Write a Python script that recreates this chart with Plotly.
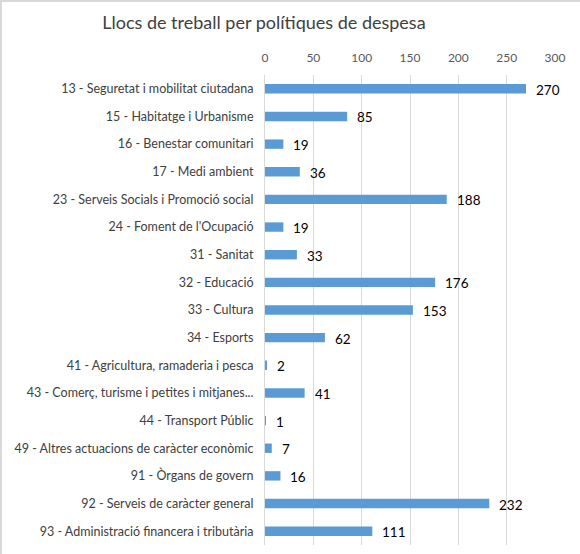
import plotly.graph_objects as go

categories = [
    "13 - Seguretat i mobilitat ciutadana",
    "15 - Habitatge i Urbanisme",
    "16 - Benestar comunitari",
    "17 - Medi ambient",
    "23 - Serveis Socials i Promoció social",
    "24 - Foment de l'Ocupació",
    "31 - Sanitat",
    "32 - Educació",
    "33 - Cultura",
    "34 - Esports",
    "41 - Agricultura, ramaderia i pesca",
    "43 - Comerç, turisme i petites i mitjanes...",
    "44 - Transport Públic",
    "49 - Altres actuacions de caràcter econòmic",
    "91 - Òrgans de govern",
    "92 - Serveis de caràcter general",
    "93 - Administració financera i tributària",
]
values = [270, 85, 19, 36, 188, 19, 33, 176, 153, 62, 2, 41, 1, 7, 16, 232, 111]
tick_values = [0, 50, 100, 150, 200, 250, 300]

fig = go.Figure(go.Bar(
    x=values, y=categories, orientation="h",
    marker=dict(color="#5B9BD5", line=dict(width=0)),
    cliponaxis=False,
))

for v, c in zip(values, categories):
    fig.add_annotation(x=v, y=c, text=str(v), showarrow=False,
                       xanchor="left", yanchor="middle", xshift=8, yshift=-1,
                       font=dict(family="Lato, sans-serif", size=13.5, color="#000000"))

fig.update_layout(
    width=580, height=554,
    margin=dict(l=265, r=25, t=75, b=9),
    paper_bgcolor="white", plot_bgcolor="white",
    bargap=0.66,
    showlegend=False,
    title=dict(text="Llocs de treball per polítiques de despesa",
               x=0.455, xanchor="center", y=1 - 23/554, yanchor="middle",
               font=dict(family="Lato, sans-serif", size=18, color="#404040")),
    xaxis=dict(side="top", range=[0, 300], tickvals=tick_values, automargin=False,
               showgrid=True, gridcolor="#D9D9D9", gridwidth=1,
               zeroline=False, showline=False, ticks="", ticklabelstandoff=10,
               tickfont=dict(family="Lato, sans-serif", size=12, color="#595959")),
    yaxis=dict(autorange="reversed", showline=True, linecolor="#D9D9D9",
               ticks="", ticklabelstandoff=8, automargin=False,
               tickfont=dict(family="Lato, sans-serif", size=12.5, color="#404040")),
    shapes=[
        dict(type="line", xref="paper", yref="paper", x0=-265/290, x1=1+25/290,
             y0=1+74/470, y1=1+74/470, line=dict(color="#D9D9D9", width=2)),
        dict(type="line", xref="paper", yref="paper", x0=-264/290, x1=-264/290,
             y0=-9/470, y1=1+75/470, line=dict(color="#D9D9D9", width=2)),
    ],
)

fig.write_html("out.html", config={"displayModeBar": False},
               post_script="document.body.style.margin='0';document.body.style.padding='0';")
